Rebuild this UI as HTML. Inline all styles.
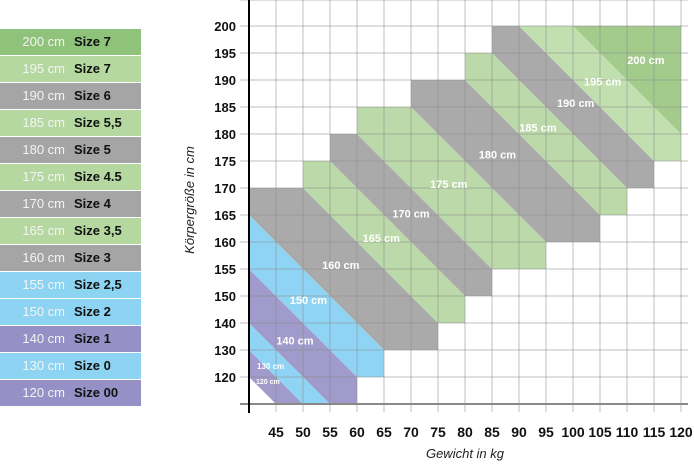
<!DOCTYPE html>
<html><head><meta charset="utf-8">
<style>
html,body{margin:0;padding:0;background:#fff;width:694px;height:464px;overflow:hidden;}
body{position:relative;font-family:"Liberation Sans",Arial,sans-serif;}
#legend{position:absolute;left:0;top:29px;width:141px;}
.row{height:26px;border-bottom:1px solid #fff;position:relative;font-size:13px;line-height:26px;}
.row .cm{position:absolute;right:76px;color:#f4f4f4;}
.row .sz{position:absolute;left:74px;font-weight:bold;color:#111;}
svg{position:absolute;left:0;top:0;display:block;overflow:hidden;}
</style></head><body>
<div id="legend"></div>
<svg id="chart" width="694" height="464"></svg>
<script>
const legendCm=["200 cm","195 cm","190 cm","185 cm","180 cm","175 cm","170 cm","165 cm","160 cm","155 cm","150 cm","140 cm","130 cm","120 cm"];
const legendSize=["Size 7","Size 7","Size 6","Size 5,5","Size 5","Size 4.5","Size 4","Size 3,5","Size 3","Size 2,5","Size 2","Size 1","Size 0","Size 00"];
const legendColor=["#8fc27a","#b5d8a0","#a5a5a5","#b5d8a0","#a5a5a5","#b5d8a0","#a5a5a5","#b5d8a0","#a5a5a5","#8dd3f2","#8dd3f2","#9591c6","#8dd3f2","#9591c6"];
const xTicks=[45,50,55,60,65,70,75,80,85,90,95,100,105,110,115,120];
const yTicks=[110,120,130,140,150,155,160,165,170,175,180,185,190,195,200];
const bandLabels=["120 cm","130 cm","140 cm","150 cm","160 cm","165 cm","170 cm","175 cm","180 cm","185 cm","190 cm","195 cm","200 cm"];
const bandD1=[1,2,3,5,7,10,12,14,17,20,22,24,26];
const bandD2=[2,3,5,7,10,12,14,17,20,22,24,26,99];
const bandCmin=[0,0,0,0,0,2,3,4,6,8,9,10,12];
const bandCmax=[2,3,4,5,7,8,9,11,13,14,15,16,16];
const bandRmin=[0,0,0,1,2,3,4,5,6,7,8,9,10];
const bandRmax=[14,14,14,14,8,9,10,11,12,13,14,14,14];
const bandColor=["#a09bca","#8fd4f4","#a09bca","#8fd4f4","#aaaaaa","#bcd9a9","#aaaaaa","#bcd9a9","#aaaaaa","#bcd9a9","#aaaaaa","#c2dfb0","#a3cc8c"];
const labelC=[0.7,0.8,1.7,2.2,3.4,4.9,6.0,7.4,9.2,10.7,12.1,13.1,14.7];
const labelR=[0.75,1.3,2.2,3.7,5.0,6.0,6.9,8.0,9.1,10.1,11.0,11.8,12.6];
const labelSize=[7,8,11,11,11,11,11,11,11,11,11,11,11];

const lg=document.getElementById('legend');
legendCm.forEach((t,i)=>{
  const r=document.createElement('div');r.className='row';r.style.background=legendColor[i];
  
  
  r.innerHTML='<span class="cm">'+t+'</span><span class="sz">'+legendSize[i]+'</span>';
  lg.appendChild(r);
});

const NS='http://www.w3.org/2000/svg';
const svg=document.getElementById('chart');
const X0=249,Y0=404,S=27;
const xc=c=>X0+S*c;
const yr=r=>Y0-S*r;
const xv=v=>xc((v-40)/5);
const yv=v=>{let i=0;while(i<yTicks.length-2&&v>yTicks[i+1])i++;return yr(i+(v-yTicks[i])/(yTicks[i+1]-yTicks[i]));};
function el(t,a,p){const e=document.createElementNS(NS,t);for(const k in a)e.setAttribute(k,a[k]);(p||svg).appendChild(e);return e;}
const defs=el('defs',{});
bandLabels.forEach((lab,i)=>{
  const cp=el('clipPath',{id:'cb'+i},defs);
  el('rect',{x:xc(bandCmin[i]),y:yr(bandRmax[i]),width:S*(bandCmax[i]-bandCmin[i]),height:S*(bandRmax[i]-bandRmin[i])},cp);
  const d1=bandD1[i],d2=bandD2[i];
  const pts=[[-20,d1+20],[d1+20,-20],[d2+20,-20],[-20,d2+20]].map(p=>xc(p[0])+','+yr(p[1])).join(' ');
  const p=el('polygon',{points:pts,fill:bandColor[i],'clip-path':'url(#cb'+i+')'});
  
  
});
for(let c=1;c<=16;c++){const l=el('line',{x1:xc(c),y1:0,x2:xc(c),y2:412,stroke:'#8a8a8a','stroke-opacity':0.55,'stroke-width':1});

}
for(let r=1;r<=15;r++){const l=el('line',{x1:240,y1:yr(r)+(r==15?1:0),x2:688,y2:yr(r)+(r==15?1:0),stroke:'#8a8a8a','stroke-opacity':0.55,'stroke-width':1});

}
const xa=el('line',{x1:240,y1:Y0,x2:688,y2:Y0,stroke:'#888','stroke-width':2});


const ya=el('line',{x1:X0,y1:0,x2:X0,y2:413,stroke:'#000','stroke-width':2});


bandLabels.forEach((lab,i)=>{
  const t=el('text',{x:xc(labelC[i]),y:yr(labelR[i]),'font-size':labelSize[i],'font-weight':'bold',fill:'#fff','text-anchor':'middle','font-family':'Liberation Sans, sans-serif'});
  t.textContent=lab;
  
  
});
xTicks.forEach(v=>{const t=el('text',{x:xv(v),y:437,'font-size':14,'font-weight':'bold','text-anchor':'middle',fill:'#111'});t.textContent=v;

});
yTicks.slice(1).forEach(v=>{const t=el('text',{x:236,y:yv(v)+5,'font-size':13,'font-weight':'bold','text-anchor':'end',fill:'#111'});t.textContent=v;

});
const xt=el('text',{x:465,y:458,'font-size':13,'font-style':'italic','text-anchor':'middle',fill:'#222'});xt.textContent='Gewicht in kg';


const yt=el('text',{x:0,y:0,'font-size':13,'font-style':'italic','text-anchor':'middle',fill:'#222',transform:'translate(194,200) rotate(-90)'});yt.textContent='Körpergröße in cm';


</script>
</body></html>
